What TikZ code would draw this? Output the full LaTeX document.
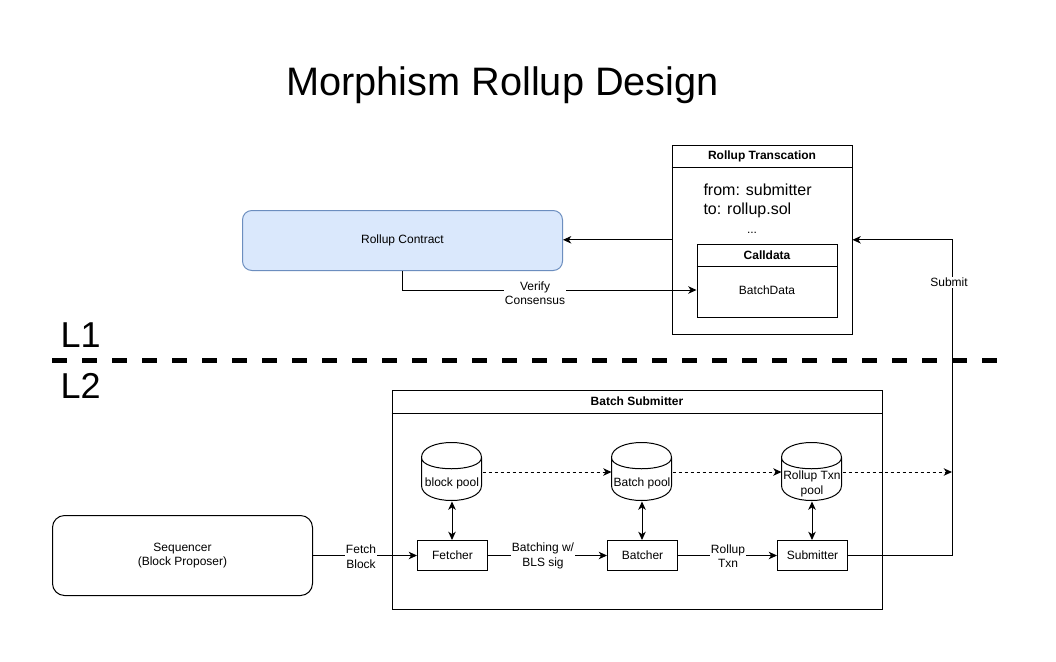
\documentclass[tikz,border=0pt]{standalone}
\usepackage{fontspec}
\setmainfont{Liberation Sans}
\usetikzlibrary{arrows.meta,calc}
\definecolor{cfill}{HTML}{DAE8FC}
\definecolor{cstroke}{HTML}{6C8EBF}
\newcommand\cylpath[1]{%
  \draw[fill=white,shift={(#1.north west)}] (0,15) .. controls (0,-5) and (60,-5) .. (60,15) -- (60,43)
    .. controls (60,63) and (0,63) .. (0,43) -- cycle
    (0,15) .. controls (0,30) and (60,30) .. (60,15);}
\begin{document}
\begin{tikzpicture}[x=0.75pt,y=-0.75pt, line width=0.75pt,
  every node/.style={font=\fontsize{9}{10.8}\selectfont, inner sep=0pt},
  lbl/.style={align=center, fill=white, inner xsep=1pt, inner ysep=0.5pt},
  box/.style={draw, minimum width=52.5pt, minimum height=22.5pt},
  cont/.style={draw},
  head/.style={font=\bfseries\fontsize{9}{10.8}\selectfont},
  tipa/.tip={Stealth[length=6.2pt,width=5.6pt,inset=1.8pt]},
  arr/.style={-tipa},
  arrb/.style={tipa-tipa},
  dsh/.style={arr, dash pattern=on 2.25pt off 2.25pt},
  cylnode/.style={minimum width=45pt, minimum height=43.5pt},
]
\useasboundingbox (0,0) rectangle (1056,661);
\fill[white] (0,0) rectangle (1056,661);

% title
\node[anchor=base, font=\fontsize{29.8}{35}\selectfont] (title) at (502.5,95) {Morphism Rollup Design};

% L1 / L2
\node[anchor=base west, font=\fontsize{27}{32}\selectfont] (l1) at (60,347) {L1};
\node[anchor=base west, font=\fontsize{27}{32}\selectfont] (l2) at (60,398) {L2};

% Rollup Contract
\node[draw=cstroke, fill=cfill, rounded corners=7pt, minimum width=240pt, minimum height=45pt] (rc) at (402.5,240.5) {Rollup Contract};

% Rollup Transaction container
\node[cont, minimum width=135pt, minimum height=141.75pt] (rt) at (762,239.8) {};
\draw ($(rt.north west)+(0,23)$) -- ($(rt.north east)+(0,23)$);
\node[head] (rtt) at ($(rt.north)+(0,11.5)$) {Rollup Transcation};
\node[anchor=base west, font=\fontsize{12}{15}\selectfont] (from) at (703,195) {from: submitter};
\node[anchor=base west, font=\fontsize{12}{15}\selectfont] (to) at (703,214.5) {to: rollup.sol};
\node (dots) at (752,233) {...};

% Calldata
\node[cont, minimum width=105pt, minimum height=55pt] (cd) at (767,281) {};
\draw ($(cd.north west)+(0,23)$) -- ($(cd.north east)+(0,23)$);
\node[head] (cdt) at ($(cd.north)+(0,11.5)$) {Calldata};
\node (bd) at (767,290) {BatchData};

% Batch Submitter container
\node[cont, minimum width=367.5pt, minimum height=164.6pt] (bs) at (637,500.25) {};
\draw ($(bs.north west)+(0,23)$) -- ($(bs.north east)+(0,23)$);
\node[head] (bst) at ($(bs.north)+(0,11.5)$) {Batch Submitter};

% cylinders
\node[cylnode] (bp) at (452,472) {};
\node[cylnode] (btp) at (642,472) {};
\node[cylnode] (rp) at (812,472) {};
\cylpath{bp}
\cylpath{btp}
\cylpath{rp}
\node (bpt) at ($(bp.center)+(0,11)$) {block pool};
\node (btpt) at ($(btp.center)+(0,11)$) {Batch pool};
\node[align=center] (rpt) at ($(rp.center)+(0,12)$) {Rollup Txn\\pool};

% process boxes
\node[box] (fe) at (452.5,555.5) {Fetcher};
\node[box] (ba) at (642.5,555.5) {Batcher};
\node[box] (su) at (812.5,555.5) {Submitter};

% Sequencer
\node[draw, rounded corners=9pt, minimum width=195pt, minimum height=60pt, align=center] (seq) at (182.5,555.5) {Sequencer\\(Block Proposer)};

\coordinate (pend) at (952,472);

% L1/L2 divider
\draw[line width=3.75pt, dash pattern=on 11.25pt off 11.25pt] (52,360) -- (997,360);

% connectors
\draw[arr] (rt.west) -- (rt.west -| rc.east);
\draw[arr] (rc.south) |- (bd -| cd.west);
\node[lbl] (vc) at (535,293) {Verify\\Consensus};

\draw[arr] (su.east) -- (su.east -| pend) |- (rt.east);
\node[lbl] (sm) at (949,282.5) {Submit};

\draw[dsh] (bp.east) -- (btp.west);
\draw[dsh] (btp.east) -- (rp.west);
\draw[dsh] (rp.east) -- (pend);

\draw[arrb] (bp.south) -- (bp.south |- fe.north);
\draw[arrb] (btp.south) -- (btp.south |- ba.north);
\draw[arrb] (rp.south) -- (rp.south |- su.north);

\draw[arr] (seq.east) -- (fe.west);
\node[lbl] (fb) at (361,556.5) {Fetch\\Block};
\draw[arr] (fe.east) -- (ba.west);
\node[lbl] (bw) at (543,556) {Batching w/\\BLS sig};
\draw[arr] (ba.east) -- (su.west);
\node[lbl] (rtx) at (728,556) {Rollup\\Txn};
\end{tikzpicture}
\end{document}
